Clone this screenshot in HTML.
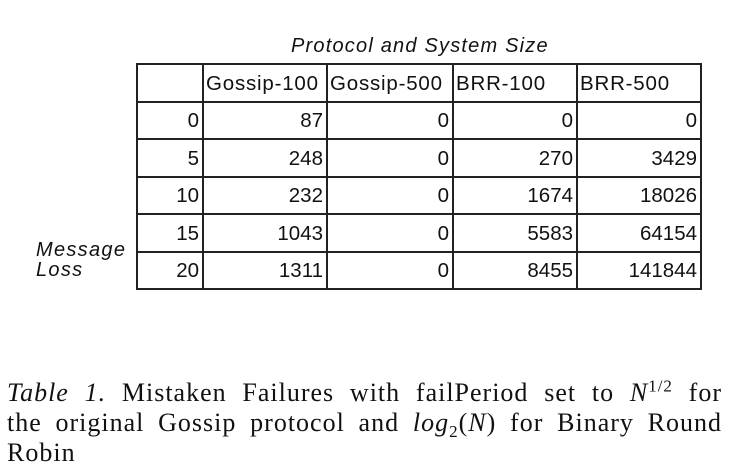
<!DOCTYPE html>
<html><head><meta charset="utf-8"><style>
body{margin:0;width:734px;height:476px;background:#fff;position:relative;overflow:hidden;font-family:"Liberation Sans",sans-serif;color:#111}
.t{position:absolute;font-size:20px;line-height:20px;white-space:nowrap}
table{position:absolute;left:136px;top:63px;border-collapse:collapse;table-layout:fixed}
td{border:2px solid #222;font-size:20.5px;height:37.5px;padding:2px 3px 0 3px;text-align:right;box-sizing:border-box;white-space:nowrap;overflow:visible}
td.h{text-align:left;padding-left:2px;letter-spacing:0.8px}
.cap{position:absolute;left:7px;width:715px;font-family:"Liberation Serif",serif;font-size:26px;letter-spacing:1px;line-height:30px;text-align:justify;text-align-last:justify;color:#111;white-space:nowrap}
</style></head><body>
<div class="t" style="left:291px;top:36px;font-style:italic;letter-spacing:1.2px">Protocol and System Size</div>
<div class="t" style="left:36px;top:240px;font-style:italic;line-height:20px;letter-spacing:1.3px">Message<br>Loss</div>
<table>
<colgroup><col style="width:66px"><col style="width:124px"><col style="width:126px"><col style="width:124px"><col style="width:124px"></colgroup>
<tr><td></td><td class="h">Gossip-100</td><td class="h">Gossip-500</td><td class="h">BRR-100</td><td class="h">BRR-500</td></tr>
<tr><td>0</td><td>87</td><td>0</td><td>0</td><td>0</td></tr>
<tr><td>5</td><td>248</td><td>0</td><td>270</td><td>3429</td></tr>
<tr><td>10</td><td>232</td><td>0</td><td>1674</td><td>18026</td></tr>
<tr><td>15</td><td>1043</td><td>0</td><td>5583</td><td>64154</td></tr>
<tr><td>20</td><td>1311</td><td>0</td><td>8455</td><td>141844</td></tr>
</table>
<div>
<div class="cap" style="top:378px"><i>Table 1.</i> Mistaken Failures with failPeriod set to <i>N</i><sup style="font-size:17px;line-height:0">1/2</sup> for</div>
<div class="cap" style="top:408px">the original Gossip protocol and <i>log</i><sub style="font-size:17px;line-height:0">2</sub>(<i>N</i>) for Binary Round</div>
<div class="cap" style="top:438px;text-align-last:left">Robin</div>
</div>
</body></html>
